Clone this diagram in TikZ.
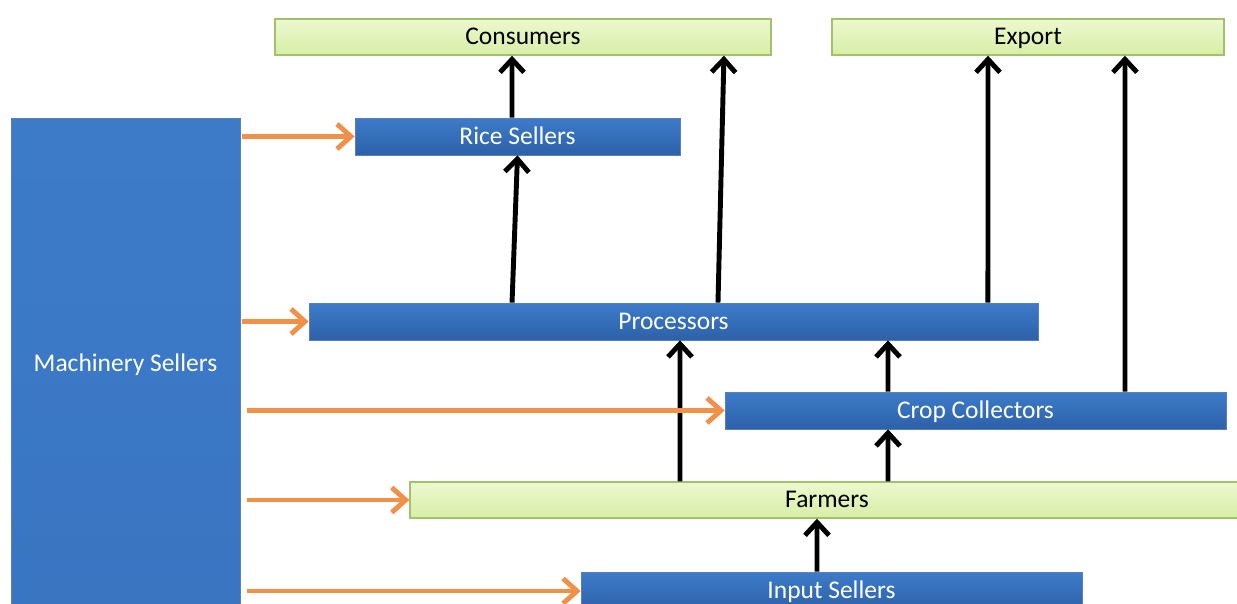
\documentclass[tikz,border=0pt]{standalone}
\usepackage{fontspec}
\setmainfont{Carlito}
\usepackage{tikz}
\usetikzlibrary{arrows.meta, calc, shadows}
\definecolor{boxblue}{HTML}{3D7BC9}
\definecolor{boxbluedark}{HTML}{2D61A9}
\definecolor{boxgreen}{HTML}{EDF8CF}
\definecolor{boxgreendark}{HTML}{D7EEA6}
\definecolor{greenline}{HTML}{A2C26A}
\definecolor{accorange}{HTML}{F0914A}

\begin{document}
\begin{tikzpicture}[x=0.02cm, y=-0.02cm,
                bluebox/.style={rectangle, top color=boxblue, bottom color=boxbluedark, draw=boxbluedark!80, thin, text=white, minimum height=0.74cm, inner sep=0pt, text height=2ex, text depth=0.2ex, font=\fontsize{14.5}{17}\selectfont, drop shadow={opacity=0.25, shadow xshift=0.6pt, shadow yshift=-0.8pt}},
                greenbox/.style={rectangle, top color=boxgreen, bottom color=boxgreendark, draw=greenline, thick, text=black, minimum height=0.72cm, inner sep=0pt, text height=2ex, text depth=0.2ex, font=\fontsize{14.5}{17}\selectfont, drop shadow={opacity=0.25, shadow xshift=0.6pt, shadow yshift=-0.8pt}},
                flow/.style={line width=2.8pt, black, -{Straight Barb[length=0.26cm, width=0.48cm]}},
                supply/.style={line width=2.8pt, accorange, -{Straight Barb[length=0.28cm, width=0.5cm]}}
            ]
            \useasboundingbox (0,0) rectangle (1237,603);
            \clip (0,0) rectangle (1237,603);

            % Knoten
            \node[greenbox, minimum width=9.92cm] (cons) at (523,37) {Consumers};
            \node[greenbox, minimum width=7.84cm] (export) at (1028,37) {Export};
            \node[bluebox, minimum width=6.5cm] (rice) at (517.5,136.5) {Rice Sellers};
            \node[bluebox, bottom color=boxblue!75!boxbluedark, minimum width=4.58cm, minimum height=9.84cm] (mach) at (125.5,364) {Machinery Sellers};
            \node[bluebox, minimum width=14.58cm] (proc) at (673.5,321.5) {Processors};
            \node[bluebox, minimum width=10.02cm] (crop) at (975.5,410.5) {Crop Collectors};
            \node[greenbox, minimum width=16.68cm] (farm) at (827,500) {Farmers};
            \node[bluebox, minimum width=10.02cm, minimum height=0.76cm] (input) at (831.5,591) {Input Sellers};

            % Kanten nach oben
            \draw[flow] ([xshift=-0.11cm]rice.north) -- ([xshift=-0.22cm]cons.south);
            \draw[flow] ([xshift=-3.23cm]proc.north) -- (rice.south);
            \draw[flow] ([xshift=0.89cm]proc.north) -- ([xshift=4.02cm]cons.south);
            \draw[flow] ([xshift=6.29cm]proc.north) -- ([xshift=-0.8cm]export.south);
            \draw[flow] ([xshift=2.99cm]crop.north) -- ([xshift=1.94cm]export.south);
            \draw[flow] ([xshift=-2.94cm]farm.north) -- ([xshift=0.13cm]proc.south);
            \draw[flow] ([xshift=-1.75cm]crop.north) -- ([xshift=4.29cm]proc.south);
            \draw[flow] ([xshift=1.22cm]farm.north) -- ([xshift=-1.75cm]crop.south);
            \draw[flow] ([xshift=-0.29cm]input.north) -- ([xshift=-0.2cm]farm.south);

            % Kanten von Machinery Sellers
            \draw[supply] ([xshift=0.04cm]mach.east |- rice.west) -- (rice.west);
            \draw[supply] ([xshift=0.04cm]mach.east |- proc.west) -- (proc.west);
            \draw[supply] ([xshift=0.14cm]mach.east |- crop.west) -- (crop.west);
            \draw[supply] ([xshift=0.14cm]mach.east |- farm.west) -- (farm.west);
            \draw[supply] ([xshift=0.14cm]mach.east |- input.west) -- (input.west);

        \end{tikzpicture}
\end{document}
